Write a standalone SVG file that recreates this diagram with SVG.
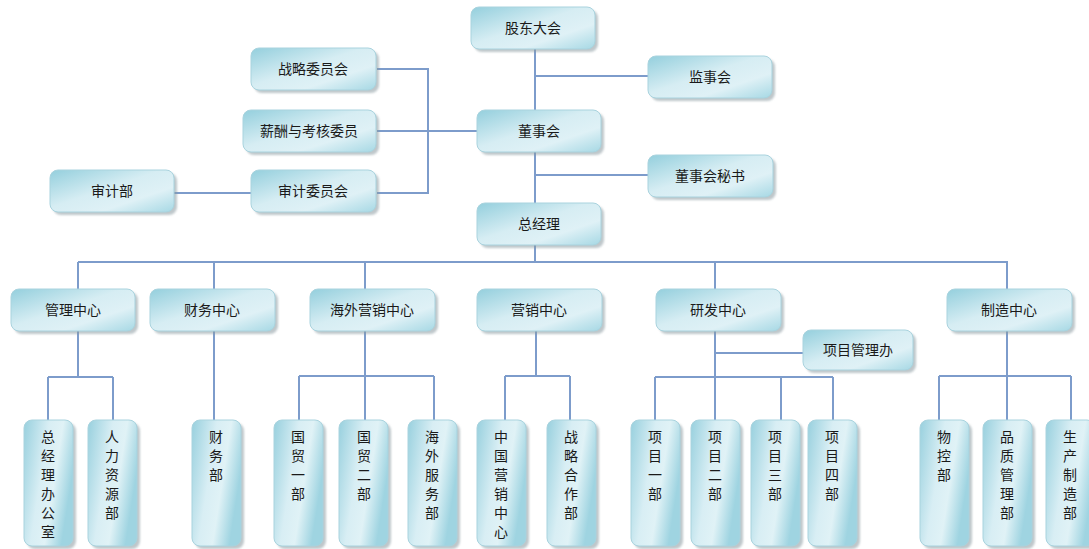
<svg xmlns="http://www.w3.org/2000/svg" width="1089" height="549" viewBox="0 0 1089 549">
<defs>
<linearGradient id="gh" x1="0" y1="0" x2="1" y2="1">
<stop offset="0" stop-color="#94cfdd"/>
<stop offset="0.45" stop-color="#d6edf3"/>
<stop offset="0.7" stop-color="#dff1f6"/>
<stop offset="1" stop-color="#a6d8e4"/>
</linearGradient>
<linearGradient id="gv" x1="0" y1="0" x2="1" y2="0.4">
<stop offset="0" stop-color="#98d0de"/>
<stop offset="0.45" stop-color="#d8eef4"/>
<stop offset="0.7" stop-color="#e0f2f6"/>
<stop offset="1" stop-color="#9fd4e1"/>
</linearGradient>
<filter id="sh" x="-20%" y="-20%" width="140%" height="140%">
<feGaussianBlur stdDeviation="1.2"/>
</filter>
</defs>
<style>
.b{fill:url(#gh);stroke:#a9d3de;stroke-width:1}
.v{fill:url(#gv);stroke:#a9d3de;stroke-width:1}
.s{fill:#8a9aa0;opacity:0.55;filter:url(#sh)}
.t{font-family:"Noto Sans CJK SC","Noto Sans",sans-serif;font-size:14px;fill:#1a1a1a;text-anchor:middle}
.c{fill:none;stroke:#7d9ccb;stroke-width:2}
</style>
<rect width="1089" height="549" fill="#ffffff"/>
<g id="connectors" class="c">
<path d="M535 49V262"/>
<path d="M535 76H648"/>
<path d="M535 175H648"/>
<path d="M377 69H428V193H377"/>
<path d="M377 131H478"/>
<path d="M174 193H251"/>
<path d="M78 262H1007V289"/>
<path d="M78 262V289M214 262V289M365 262V289M715 262V289"/>
<path d="M78 331V377M48 377H113M48 377V420M113 377V420"/>
<path d="M214 331V420"/>
<path d="M365 331V420M299 376H434M299 376V420M434 376V420"/>
<path d="M536 331V376M505 376H570M505 376V420M570 376V420"/>
<path d="M715 331V420M715 353H804M655 377H833M655 377V420M781 377V420M833 377V420"/>
<path d="M1007 331V420M939 376H1071M939 376V420M1071 376V420"/>
</g>
<g id="gudong"><rect class="s" x="474" y="10" width="124" height="42" rx="8"/><rect class="b" x="471" y="7" width="124" height="42" rx="8"/><text class="t" x="533" y="33">股东大会</text></g>
<g id="jianshi"><rect class="s" x="651" y="59" width="124" height="42" rx="8"/><rect class="b" x="648" y="56" width="124" height="42" rx="8"/><text class="t" x="710" y="82">监事会</text></g>
<g id="zhanlue-wyh"><rect class="s" x="254" y="51" width="125" height="42" rx="8"/><rect class="b" x="251" y="48" width="125" height="42" rx="8"/><text class="t" x="313" y="74">战略委员会</text></g>
<g id="xinchou"><rect class="s" x="246" y="113" width="133" height="42" rx="8"/><rect class="b" x="243" y="110" width="133" height="42" rx="8"/><text class="t" x="309" y="136">薪酬与考核委员</text></g>
<g id="dongshi"><rect class="s" x="480" y="113" width="124" height="42" rx="8"/><rect class="b" x="477" y="110" width="124" height="42" rx="8"/><text class="t" x="539" y="136">董事会</text></g>
<g id="mishu"><rect class="s" x="651" y="158" width="125" height="42" rx="8"/><rect class="b" x="648" y="155" width="125" height="42" rx="8"/><text class="t" x="710" y="181">董事会秘书</text></g>
<g id="shenji-bu"><rect class="s" x="53" y="173" width="124" height="42" rx="8"/><rect class="b" x="50" y="170" width="124" height="42" rx="8"/><text class="t" x="112" y="196">审计部</text></g>
<g id="shenji-wyh"><rect class="s" x="254" y="173" width="125" height="42" rx="8"/><rect class="b" x="251" y="170" width="125" height="42" rx="8"/><text class="t" x="313" y="196">审计委员会</text></g>
<g id="zongjingli"><rect class="s" x="480" y="206" width="124" height="42" rx="8"/><rect class="b" x="477" y="203" width="124" height="42" rx="8"/><text class="t" x="539" y="229">总经理</text></g>
<g id="guanli"><rect class="s" x="14" y="292" width="124" height="42" rx="8"/><rect class="b" x="11" y="289" width="124" height="42" rx="8"/><text class="t" x="73" y="315">管理中心</text></g>
<g id="caiwu"><rect class="s" x="153" y="292" width="125" height="42" rx="8"/><rect class="b" x="150" y="289" width="125" height="42" rx="8"/><text class="t" x="212" y="315">财务中心</text></g>
<g id="haiwai"><rect class="s" x="313" y="292" width="125" height="42" rx="8"/><rect class="b" x="310" y="289" width="125" height="42" rx="8"/><text class="t" x="372" y="315">海外营销中心</text></g>
<g id="yingxiao"><rect class="s" x="480" y="292" width="125" height="42" rx="8"/><rect class="b" x="477" y="289" width="125" height="42" rx="8"/><text class="t" x="539" y="315">营销中心</text></g>
<g id="yanfa"><rect class="s" x="659" y="292" width="125" height="42" rx="8"/><rect class="b" x="656" y="289" width="125" height="42" rx="8"/><text class="t" x="718" y="315">研发中心</text></g>
<g id="zhizao"><rect class="s" x="950" y="292" width="125" height="42" rx="8"/><rect class="b" x="947" y="289" width="125" height="42" rx="8"/><text class="t" x="1009" y="315">制造中心</text></g>
<g id="xiangmu-guanli"><rect class="s" x="806" y="333" width="110" height="40" rx="8"/><rect class="b" x="803" y="330" width="110" height="40" rx="8"/><text class="t" x="858" y="355">项目管理办</text></g>
<g id="zjb"><rect class="s" x="27" y="423" width="49" height="126" rx="8"/><rect class="v" x="24" y="420" width="49" height="126" rx="8"/><text class="t"><tspan x="48" y="442">总</tspan><tspan x="48" y="461">经</tspan><tspan x="48" y="480">理</tspan><tspan x="48" y="499">办</tspan><tspan x="48" y="518">公</tspan><tspan x="48" y="537">室</tspan></text></g>
<g id="renli"><rect class="s" x="91" y="423" width="49" height="126" rx="8"/><rect class="v" x="88" y="420" width="49" height="126" rx="8"/><text class="t"><tspan x="112" y="442">人</tspan><tspan x="112" y="461">力</tspan><tspan x="112" y="480">资</tspan><tspan x="112" y="499">源</tspan><tspan x="112" y="518">部</tspan></text></g>
<g id="caiwubu"><rect class="s" x="195" y="423" width="49" height="126" rx="8"/><rect class="v" x="192" y="420" width="49" height="126" rx="8"/><text class="t"><tspan x="216" y="442">财</tspan><tspan x="216" y="461">务</tspan><tspan x="216" y="480">部</tspan></text></g>
<g id="guomao1"><rect class="s" x="277" y="423" width="49" height="126" rx="8"/><rect class="v" x="274" y="420" width="49" height="126" rx="8"/><text class="t"><tspan x="298" y="442">国</tspan><tspan x="298" y="461">贸</tspan><tspan x="298" y="480">一</tspan><tspan x="298" y="499">部</tspan></text></g>
<g id="guomao2"><rect class="s" x="342" y="423" width="49" height="126" rx="8"/><rect class="v" x="339" y="420" width="49" height="126" rx="8"/><text class="t"><tspan x="364" y="442">国</tspan><tspan x="364" y="461">贸</tspan><tspan x="364" y="480">二</tspan><tspan x="364" y="499">部</tspan></text></g>
<g id="haiwaifuwu"><rect class="s" x="411" y="423" width="49" height="126" rx="8"/><rect class="v" x="408" y="420" width="49" height="126" rx="8"/><text class="t"><tspan x="432" y="442">海</tspan><tspan x="432" y="461">外</tspan><tspan x="432" y="480">服</tspan><tspan x="432" y="499">务</tspan><tspan x="432" y="518">部</tspan></text></g>
<g id="zhongguoyx"><rect class="s" x="480" y="423" width="49" height="126" rx="8"/><rect class="v" x="477" y="420" width="49" height="126" rx="8"/><text class="t"><tspan x="501" y="442">中</tspan><tspan x="501" y="461">国</tspan><tspan x="501" y="480">营</tspan><tspan x="501" y="499">销</tspan><tspan x="501" y="518">中</tspan><tspan x="501" y="537">心</tspan></text></g>
<g id="zhanluehz"><rect class="s" x="550" y="423" width="49" height="126" rx="8"/><rect class="v" x="547" y="420" width="49" height="126" rx="8"/><text class="t"><tspan x="571" y="442">战</tspan><tspan x="571" y="461">略</tspan><tspan x="571" y="480">合</tspan><tspan x="571" y="499">作</tspan><tspan x="571" y="518">部</tspan></text></g>
<g id="xm1"><rect class="s" x="634" y="423" width="49" height="126" rx="8"/><rect class="v" x="631" y="420" width="49" height="126" rx="8"/><text class="t"><tspan x="655" y="442">项</tspan><tspan x="655" y="461">目</tspan><tspan x="655" y="480">一</tspan><tspan x="655" y="499">部</tspan></text></g>
<g id="xm2"><rect class="s" x="694" y="423" width="49" height="126" rx="8"/><rect class="v" x="691" y="420" width="49" height="126" rx="8"/><text class="t"><tspan x="715" y="442">项</tspan><tspan x="715" y="461">目</tspan><tspan x="715" y="480">二</tspan><tspan x="715" y="499">部</tspan></text></g>
<g id="xm3"><rect class="s" x="754" y="423" width="49" height="126" rx="8"/><rect class="v" x="751" y="420" width="49" height="126" rx="8"/><text class="t"><tspan x="775" y="442">项</tspan><tspan x="775" y="461">目</tspan><tspan x="775" y="480">三</tspan><tspan x="775" y="499">部</tspan></text></g>
<g id="xm4"><rect class="s" x="811" y="423" width="49" height="126" rx="8"/><rect class="v" x="808" y="420" width="49" height="126" rx="8"/><text class="t"><tspan x="832" y="442">项</tspan><tspan x="832" y="461">目</tspan><tspan x="832" y="480">四</tspan><tspan x="832" y="499">部</tspan></text></g>
<g id="wukong"><rect class="s" x="923" y="423" width="49" height="126" rx="8"/><rect class="v" x="920" y="420" width="49" height="126" rx="8"/><text class="t"><tspan x="944" y="442">物</tspan><tspan x="944" y="461">控</tspan><tspan x="944" y="480">部</tspan></text></g>
<g id="pinzhi"><rect class="s" x="986" y="423" width="49" height="126" rx="8"/><rect class="v" x="983" y="420" width="49" height="126" rx="8"/><text class="t"><tspan x="1007" y="442">品</tspan><tspan x="1007" y="461">质</tspan><tspan x="1007" y="480">管</tspan><tspan x="1007" y="499">理</tspan><tspan x="1007" y="518">部</tspan></text></g>
<g id="shengchan"><rect class="s" x="1049" y="423" width="49" height="126" rx="8"/><rect class="v" x="1046" y="420" width="49" height="126" rx="8"/><text class="t"><tspan x="1070" y="442">生</tspan><tspan x="1070" y="461">产</tspan><tspan x="1070" y="480">制</tspan><tspan x="1070" y="499">造</tspan><tspan x="1070" y="518">部</tspan></text></g>
</svg>
